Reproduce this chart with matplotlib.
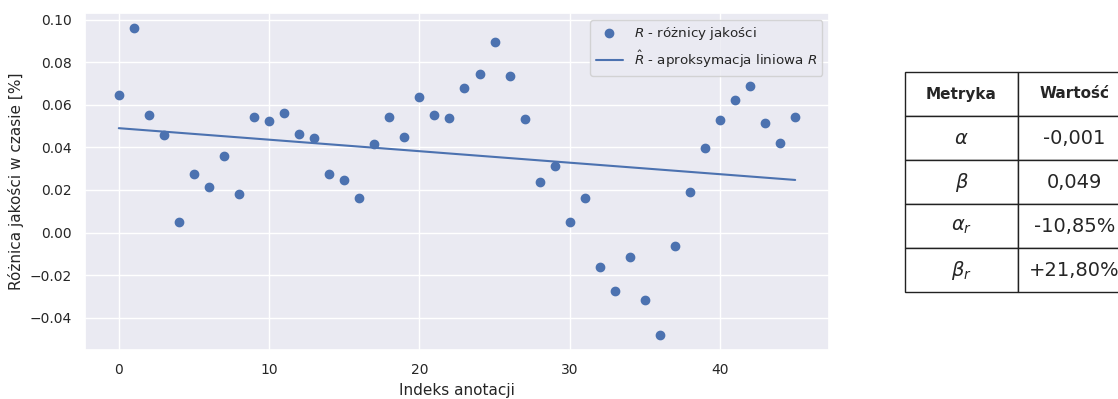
import numpy as np
import matplotlib.pyplot as plt
import seaborn as sns

sns.set_theme(style="darkgrid")

# Różnice jakości dla kolejnych anotacji
indeksy = np.arange(46)
roznice = [0.0647, 0.0958, 0.0553, 0.0460, 0.0051, 0.0274, 0.0214, 0.0358, 0.0180, 0.0544,
           0.0526, 0.0563, 0.0465, 0.0442, 0.0274, 0.0246, 0.0163, 0.0414, 0.0544, 0.0450,
           0.0637, 0.0553, 0.0540, 0.0679, 0.0744, 0.0893, 0.0735, 0.0535, 0.0237, 0.0312,
           0.0051, 0.0163, -0.0163, -0.0274, -0.0116, -0.0316, -0.0479, -0.0065, 0.0191, 0.0395,
           0.0530, 0.0623, 0.0688, 0.0516, 0.0419, 0.0544]

# Parametry aproksymacji liniowej
alpha = -0.00054
beta = 0.049
metryki = [r'$\alpha$', r'$\beta$', r'$\alpha_r$', r'$\beta_r$']
wartosci = ['-0,001', '0,049', '-10,85%', '+21,80%']

fig = plt.figure(figsize=(11.18, 3.99), dpi=100)
ax = fig.add_axes([0.076, 0.123, 0.6655, 0.844])

ax.plot(indeksy, roznice, 'o', color='#4c72b0', markersize=6, label=r'$R$ - różnicy jakości')
ax.plot(indeksy, alpha * indeksy + beta, '-', color='#4c72b0', linewidth=1.5,
        label=r'$\hat{R}$ - aproksymacja liniowa $R$')
ax.set_xlabel('Indeks anotacji', fontsize=11)
ax.set_ylabel('Różnica jakości w czasie [%]', fontsize=11)
ax.tick_params(labelsize=10)
ax.legend(loc='upper right', fontsize=9.7)

# Tabela z metrykami
tax = fig.add_axes([905 / 1118, (399 - 292) / 399, 226 / 1118, 220 / 399])
tax.axis('off')
tabela = tax.table(cellText=[[m, w] for m, w in zip(metryki, wartosci)],
                   colLabels=['Metryka', 'Wartość'], cellLoc='center',
                   loc='center', bbox=[0, 0, 1, 1])
tabela.auto_set_font_size(False)
for (r, c), cell in tabela.get_celld().items():
    cell.set_edgecolor('#222222')
    cell.set_facecolor('white')
    if r == 0:
        cell.set_text_props(fontweight='bold', fontsize=11)
    else:
        cell.set_text_props(fontsize=14)

fig.savefig('out.png', dpi=100)
